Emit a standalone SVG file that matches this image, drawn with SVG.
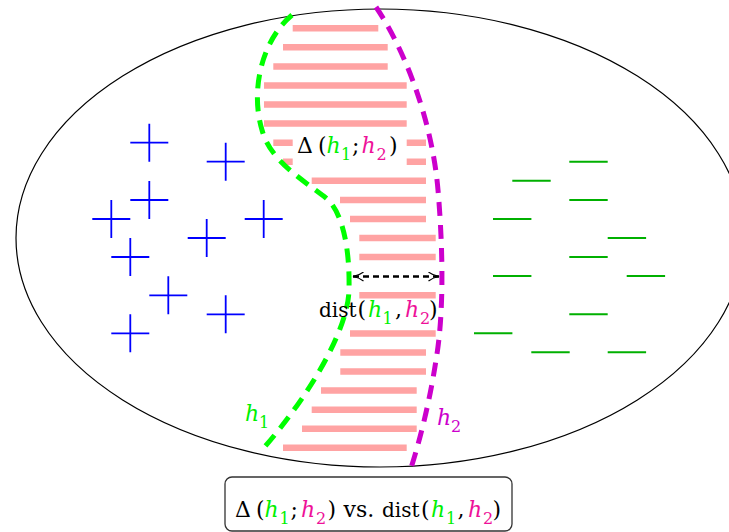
<svg xmlns="http://www.w3.org/2000/svg" width="729" height="532" viewBox="0 0 729 532">
<style>
  .bar{stroke:#ffa3a3;stroke-width:6.5;fill:none}
  .cross{stroke:#0000ff;stroke-width:1.8;fill:none}
  .neg{stroke:#00b000;stroke-width:2;fill:none}
  .h1{stroke:#00ff00;stroke-width:5;fill:none;stroke-dasharray:14 9}
  .h2{stroke:#cc00cc;stroke-width:5;fill:none;stroke-dasharray:14 9}
  text{font-family:"DejaVu Serif","Liberation Serif",serif;font-size:22px;fill:#000}
  .it{font-style:italic}
  .sub{font-size:16px}
  .fn{font-size:20px}
  .g{fill:#00f000}
  .p{fill:#ee1199}
  .m{fill:#cc00cc}
</style>
<defs>
  <marker id="head" viewBox="0 0 12 10" refX="11" refY="5" markerWidth="12" markerHeight="10" markerUnits="userSpaceOnUse" orient="auto-start-reverse">
    <path d="M0.5,0.5 Q5,4 11,5 Q5,6 0.5,9.5" fill="none" stroke="#000" stroke-width="1.2"/>
  </marker>
</defs>
<rect width="729" height="532" fill="#fff"/>
<g id="region">
  <ellipse cx="380" cy="238" rx="364" ry="229" fill="none" stroke="#000" stroke-width="1.2"/>
</g>
<g id="disagreement">
  <path class="bar" d="M292.7,28.3H378.3M283,47.3H387.7M273.3,66.4H387.7M264,85.5H406.7M264,104.6H406.7M264,123.6H406.7M273.3,142.7H292.7M406.7,142.7H426M283,161.8H292.7M406.7,161.8H426M311.7,180.8H426M340,199.9H426M350,219H426M359.3,238H435.7M359.3,257.1H435.7M359.3,295.3H435.7M350,333.4H435.7M340.3,352.5H426M340.3,371.5H426M321,390.6H416.7M311.7,409.7H416.7M302,428.7H416.7M283,447.8H406.7"/>
</g>
<g id="positives">
  <path class="cross" d="M130.3,142.7h38M149.3,123.7v38M206.7,161.7h38M225.7,142.7v38M130.3,200h38M149.3,181v38M92.3,219h38M111.3,200v38M244.7,219h38M263.7,200v38M187.7,238h38M206.7,219v38M111.3,257h38M130.3,238v38M149.3,295.3h38M168.3,276.3v38M206.7,314.3h38M225.7,295.3v38M111.3,333.3h38M130.3,314.3v38"/>
</g>
<g id="negatives">
  <path class="neg" d="M569.3,161.7h38.4M512.3,180.7h38.4M569.3,200h38.4M493,219h38.4M607.7,238h38.4M569.3,257h38.4M493,276h38.4M626.7,276h38.4M569.3,314.3h38.4M474,333.3h38.4M531.3,352.3h38.4M607.7,352.3h38.4"/>
</g>
<g id="h1">
  <path class="h1" d="M292,15 C262,40 250,90 262,130 C270,160 300,178 326,198 C343,212 350,250 349,290 C348,330 310,395 262,450"/>
  <text x="245" y="421"><tspan class="it g">h</tspan><tspan class="sub g" x="259" y="428">1</tspan></text>
</g>
<g id="h2">
  <path class="h2" d="M376,7 C405,50 432,120 438,190 C444,260 443,320 436,360 C430,400 420,440 411,468"/>
  <text x="437" y="425"><tspan class="it m">h</tspan><tspan class="sub m" x="451" y="432">2</tspan></text>
</g>
<g id="delta-label">
  <text x="297" y="153"><tspan x="297">Δ</tspan><tspan x="318">(</tspan><tspan x="326.5" class="it g">h</tspan><tspan x="341" y="160" class="sub g">1</tspan><tspan x="352" y="153">;</tspan><tspan x="361.5" class="it p">h</tspan><tspan x="376.5" y="160" class="sub p">2</tspan><tspan x="389" y="153">)</tspan></text>
</g>
<g id="dist-label">
  <text x="319" y="317"><tspan x="319" class="fn">dist</tspan><tspan x="357.5">(</tspan><tspan x="368" class="it g">h</tspan><tspan x="382.5" y="324" class="sub g">1</tspan><tspan x="395" y="317">,</tspan><tspan x="405" class="it p">h</tspan><tspan x="420" y="324" class="sub p">2</tspan><tspan x="429" y="317">)</tspan></text>
</g>
<g id="connectors">
  <line x1="353" y1="276.5" x2="439" y2="276.5" stroke="#000" stroke-width="2.5" stroke-dasharray="6 4" marker-start="url(#head)" marker-end="url(#head)"/>
</g>
<g id="title-box">
  <rect x="225" y="477" width="287" height="54" rx="7" ry="7" fill="#fff" stroke="#333" stroke-width="1.3"/>
  <text x="235" y="517"><tspan x="235">Δ</tspan><tspan x="256">(</tspan><tspan x="264.5" class="it g">h</tspan><tspan x="279.5" y="524" class="sub g">1</tspan><tspan x="290.5" y="517">;</tspan><tspan x="301" class="it p">h</tspan><tspan x="316" y="524" class="sub p">2</tspan><tspan x="327.5" y="517">)</tspan><tspan x="343.5">vs.</tspan><tspan x="382" class="fn">dist</tspan><tspan x="421">(</tspan><tspan x="431" class="it g">h</tspan><tspan x="446" y="524" class="sub g">1</tspan><tspan x="457.5" y="517">,</tspan><tspan x="468" class="it p">h</tspan><tspan x="483" y="524" class="sub p">2</tspan><tspan x="492.5" y="517">)</tspan></text>
</g>
</svg>
